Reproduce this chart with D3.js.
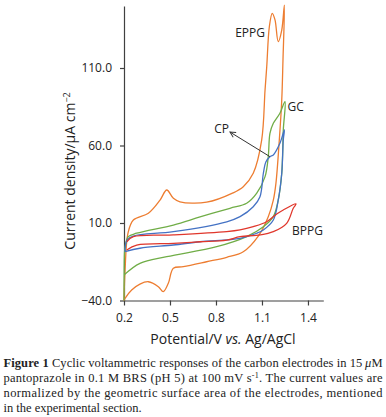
<!DOCTYPE html>
<html>
<head>
<meta charset="utf-8">
<script src="https://cdn.jsdelivr.net/npm/d3@7"></script>
<style>
  html, body { margin: 0; padding: 0; background: #fff; }
  svg { display: block; }
  .axis path, .axis line { stroke: #404040; stroke-width: 1.2; }
  .axis text { font-family: "Open Sans", sans-serif; font-size: 12px; fill: #222; }
  .lbl { font-family: "Open Sans", sans-serif; font-size: 12px; fill: #222; }
  .cap { font-family: "Liberation Serif", serif; font-size: 12.5px; fill: #222; }
</style>
</head>
<body>
<div id="chart"></div>
<script>
// potential (V) and current density (uA cm-2): forward scan then reverse
const eppgE = [0.200, 0.207, 0.226, 0.261, 0.359, 0.435, 0.479, 0.522, 0.565, 0.739, 0.911, 0.978, 1.043, 1.098, 1.120, 1.131, 1.148, 1.167, 1.185, 1.206, 1.229, 1.246,
               1.237, 1.229, 1.213, 1.191, 1.174, 1.141, 1.076, 0.978, 0.870, 0.739, 0.587, 0.522, 0.489, 0.456, 0.424, 0.359, 0.304, 0.250, 0.207, 0.200];
const eppgI = [-40.0, -20.3, 3.5, 11.9, 16.3, 24.8, 31.3, 25.9, 23.7, 23.4, 29.4, 33.4, 42.1, 63.5, 95.8, 110.8, 136.6, 145.3, 141.0, 127.0, 134.5, 150.6,
               115.2, 89.4, 63.5, 35.6, 24.8, 14.1, 1.6, -8.5, -12.1, -15.0, -18.2, -19.2, -28.9, -34.3, -31.1, -27.9, -29.4, -33.2, -38.6, -40.0];

const gcE = [0.200, 0.201, 0.203, 0.207, 0.228, 0.283, 0.522, 0.696, 0.891, 1.000, 1.066, 1.120, 1.141, 1.152, 1.174, 1.217, 1.250,
             1.239, 1.229, 1.206, 1.174, 1.109, 1.000, 0.805, 0.479, 0.304, 0.200];
const gcI = [-40.0, -20.0, -10.0, -5.3, 1.2, 3.4, 8.7, 13.9, 19.5, 22.7, 29.2, 39.9, 52.8, 67.9, 74.3, 80.8, 88.3,
             70.0, 42.1, 24.8, 14.1, 7.6, 1.2, -5.3, -11.7, -16.0, -23.5];

const cpE = [0.207, 0.210, 0.220, 0.261, 0.522, 0.870, 0.957, 1.043, 1.087, 1.109, 1.126, 1.152, 1.174, 1.217, 1.246,
             1.239, 1.229, 1.206, 1.174, 1.109, 1.066, 0.957, 0.696, 0.522, 0.304, 0.207];
const cpI = [-8.5, -4.2, -1.0, 1.6, 4.4, 10.8, 14.1, 20.5, 27.0, 42.1, 49.5, 52.8, 53.9, 61.4, 70.0,
             63.5, 42.1, 24.8, 11.9, 5.5, 3.4, 0.1, -2.1, -4.2, -6.3, -8.5];

const bppgE = [0.218, 0.261, 0.522, 0.870, 0.957, 1.043, 1.131, 1.196, 1.239, 1.322,
               1.304, 1.261, 1.174, 1.087, 0.957, 0.870, 0.696, 0.522, 0.283, 0.218];
const bppgI = [-2.1, 1.2, 2.3, 4.4, 5.5, 7.6, 10.8, 15.8, 18.4, 22.3,
               19.5, 9.8, 4.4, 2.3, 1.2, -1.0, -2.1, -3.1, -4.2, -7.4];

const xTicks = [0.2, 0.5, 0.8, 1.1, 1.4];
const yTicks = [-40, 10, 60, 110];

const seriesNames = ["EPPG", "GC", "CP", "BPPG"];
const seriesColors = ["#ed7d31", "#70ad47", "#4472c4", "#e0372c"];

var width = 386, height = 417;

var svg = d3.select('#chart').append('svg')
    .attr('width', width)
    .attr('height', height);

svg.append('rect').attr('width', width).attr('height', height).attr('fill', '#fff');

var x = d3.scaleLinear().domain([0.2, 1.5]).range([124, 323.3]);
var y = d3.scaleLinear().domain([-40, 150]).range([300.5, 6]);

// axes
svg.append('g')
    .attr('class', 'axis')
    .attr('transform', 'translate(0,' + y(-40) + ')')
    .call(d3.axisBottom(x).tickValues(xTicks).tickFormat(d3.format('.1f')).tickSize(5).tickSizeOuter(0).tickPadding(8));

svg.append('g')
    .attr('class', 'axis')
    .attr('transform', 'translate(' + x(0.2) + ',0)')
    .call(d3.axisLeft(y).tickValues(yTicks).tickFormat(d3.format('.1f')).tickSize(4).tickSizeOuter(0).tickPadding(8));

// curves
var line = d3.line()
    .x(function(d) { return x(d[0]); })
    .y(function(d) { return y(d[1]); })
    .curve(d3.curveCatmullRom.alpha(0.5));

var allE = [eppgE, gcE, cpE, bppgE];
var allI = [eppgI, gcI, cpI, bppgI];

// draw order so orange sits under the rest like the original
[0, 1, 2, 3].forEach(function(k) {
    var pts = allE[k].map(function(e, i) { return [e, allI[k][i]]; });
    svg.append('path')
        .datum(pts)
        .attr('d', line)
        .style('fill', 'none')
        .style('stroke', seriesColors[k])
        .style('stroke-width', 1.3);
});

// CP arrow
svg.append('defs').append('marker')
    .attr('id', 'arr')
    .attr('viewBox', '0 0 10 10')
    .attr('refX', 9).attr('refY', 5)
    .attr('markerWidth', 7).attr('markerHeight', 7)
    .attr('orient', 'auto')
    .append('path')
    .attr('d', 'M1,1 L9,5 L1,9')
    .style('fill', 'none')
    .style('stroke', '#333')
    .style('stroke-width', 1.3);

svg.append('line')
    .attr('x1', x(1.152)).attr('y1', y(52.8))
    .attr('x2', x(0.891)).attr('y2', y(68.7))
    .style('stroke', '#333')
    .style('stroke-width', 1)
    .attr('marker-end', 'url(#arr)');

// series labels
svg.append('text').attr('class', 'lbl').attr('x', x(1.12)).attr('y', y(130.3)).attr('text-anchor', 'end').text('EPPG');
svg.append('text').attr('class', 'lbl').attr('x', x(1.266)).attr('y', y(85)).attr('dy', '0.35em').text('GC');
svg.append('text').attr('class', 'lbl').attr('x', x(0.885)).attr('y', y(70.5)).attr('dy', '0.35em').attr('text-anchor', 'end').text('CP');
svg.append('text').attr('class', 'lbl').attr('x', x(1.296)).attr('y', y(5.2)).attr('dy', '0.35em').text('BPPG');

// axis titles
var xt = svg.append('text')
    .attr('class', 'lbl')
    .attr('x', 223).attr('y', 343.5)
    .attr('text-anchor', 'middle')
    .style('font-size', '14px');
xt.append('tspan').text('Potential/V ');
xt.append('tspan').style('font-style', 'italic').text('vs.');
xt.append('tspan').text(' Ag/AgCl');

var yt = svg.append('text')
    .attr('class', 'lbl')
    .attr('transform', 'translate(75,171) rotate(-90)')
    .attr('text-anchor', 'middle')
    .style('font-size', '14px');
yt.append('tspan').text('Current density/\u00b5A cm');
yt.append('tspan').attr('dy', -5).style('font-size', '9px').text('\u22122');

// caption
var capLines = [367, 382, 397, 412];
var c1 = svg.append('text').attr('class', 'cap').attr('x', 3.5).attr('y', capLines[0])
    .attr('textLength', 379).attr('lengthAdjust', 'spacing');
c1.append('tspan').style('font-weight', 'bold').text('Figure 1');
c1.append('tspan').text(' Cyclic voltammetric responses of the carbon electrodes in 15\u2009');
c1.append('tspan').style('font-style', 'italic').text('\u03bc');
c1.append('tspan').text('M');

var c2 = svg.append('text').attr('class', 'cap').attr('x', 3.5).attr('y', capLines[1])
    .attr('textLength', 379).attr('lengthAdjust', 'spacing');
c2.append('tspan').text('pantoprazole in 0.1 M BRS (pH 5) at 100 mV s');
c2.append('tspan').attr('dy', -4).style('font-size', '8px').text('-1');
c2.append('tspan').attr('dy', 4).text('. The current values are');

svg.append('text').attr('class', 'cap').attr('x', 3.5).attr('y', capLines[2])
    .attr('textLength', 379).attr('lengthAdjust', 'spacing')
    .text('normalized by the geometric surface area of the electrodes, mentioned');

svg.append('text').attr('class', 'cap').attr('x', 3.5).attr('y', capLines[3])
    .text('in the experimental section.');
</script>
</body>
</html>
